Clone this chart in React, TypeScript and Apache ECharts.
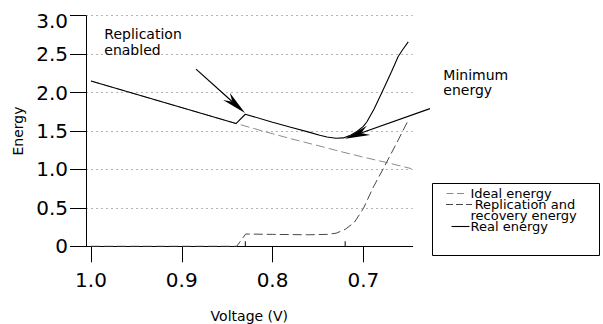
import React, { useEffect, useRef } from "react";
import * as echarts from "echarts";

// ---- data ----
const voltageTicks = [1.0, 0.9, 0.8, 0.7];
const seriesNames = ["Ideal energy", "Replication and\nrecovery energy", "Real energy"];

const idealVoltage = [1.0, 0.84, 0.8139, 0.78, 0.75, 0.7258, 0.7, 0.6726, 0.647];
const idealEnergy = [2.15, 1.597, 1.51, 1.4, 1.31, 1.235, 1.16, 1.085, 1.01];

const replVoltage = [1.0, 0.8395, 0.8296, 0.8, 0.76, 0.74, 0.73, 0.72, 0.71, 0.7, 0.689, 0.678, 0.6617, 0.6505];
const replEnergy = [0, 0, 0.16, 0.155, 0.15, 0.155, 0.17, 0.22, 0.31, 0.49, 0.77, 1.01, 1.38, 1.64];

const realVoltage = [1.0, 0.8403, 0.83, 0.8, 0.78, 0.76, 0.748, 0.74, 0.73, 0.722, 0.715, 0.7074, 0.7, 0.696, 0.688, 0.678, 0.669, 0.6616, 0.6565, 0.6505];
const realEnergy = [2.15, 1.597, 1.718, 1.615, 1.55, 1.485, 1.445, 1.422, 1.405, 1.41, 1.44, 1.49, 1.56, 1.62, 1.79, 2.04, 2.27, 2.47, 2.56, 2.66];

const annotationTexts = ["Replication\nenabled", "Minimum\nenergy"];
const replicationPoint = [0.8303, 1.733];
const minimumPoint = [0.7202, 1.4];
const markerVoltages = [0.83, 0.72];

const FONT = "DejaVu Sans";

function zip(xs: number[], ys: number[]) {
  return xs.map((x, i) => [x, ys[i]]);
}

function arrow(tip: number[], tail: number[]) {
  const dx = tip[0] - tail[0];
  const dy = tip[1] - tail[1];
  const len = Math.hypot(dx, dy);
  const ux = dx / len, uy = dy / len;
  const px = -uy, py = ux;
  const L = 25, W = 10;
  const bx = tip[0] - ux * L, by = tip[1] - uy * L;
  const nx = tip[0] - ux * L * 0.68, ny = tip[1] - uy * L * 0.68;
  return [
    { type: "line", silent: true, shape: { x1: tail[0], y1: tail[1], x2: nx, y2: ny }, style: { stroke: "#000", lineWidth: 1.2 } },
    {
      type: "polygon",
      silent: true,
      shape: { points: [[tip[0], tip[1]], [bx + px * W / 2, by + py * W / 2], [nx, ny], [bx - px * W / 2, by - py * W / 2]] },
      style: { fill: "#000" },
    },
  ];
}

export default function App() {
  const ref = useRef<HTMLDivElement>(null);
  useEffect(() => {
    const chart = echarts.init(ref.current!, null, { renderer: "svg" });
    const option: any = {
      animation: false,
      backgroundColor: "#fff",
      grid: { left: 86, right: 190.3, top: 15.7, bottom: 77.7, containLabel: false, outerBoundsMode: "none" },
      xAxis: {
        type: "value",
        inverse: true,
        min: 0.6456,
        max: 1.0055,
        name: "Voltage (V)",
        nameLocation: "middle",
        nameGap: 63,
        nameTextStyle: { fontFamily: FONT, fontSize: 14, color: "#000" },
        axisLine: { show: true, lineStyle: { color: "#000", width: 1 } },
        axisTick: { show: true, inside: false, length: 16, customValues: voltageTicks, lineStyle: { color: "#000", width: 1 } },
        axisLabel: {
          customValues: voltageTicks,
          margin: 24,
          fontFamily: FONT,
          fontSize: 20,
          color: "#000",
          formatter: (v: number) => v.toFixed(1),
        },
        splitLine: { show: false },
      },
      yAxis: {
        type: "value",
        min: 0,
        max: 3,
        interval: 0.5,
        name: "Energy",
        nameLocation: "middle",
        nameGap: 57,
        nameTextStyle: { fontFamily: FONT, fontSize: 14, color: "#000" },
        axisLine: { show: true, lineStyle: { color: "#000", width: 1 } },
        axisTick: { show: true, inside: false, length: 16, lineStyle: { color: "#000", width: 1 } },
        axisLabel: {
          margin: 18,
          fontFamily: FONT,
          fontSize: 20,
          color: "#000",
          formatter: (v: number) => (v === 0 ? "0" : v === 3 ? "{top|3.0}" : v.toFixed(1)),
          rich: { top: { fontFamily: FONT, fontSize: 20, color: "#000", padding: [11, 0, 0, 0] } },
        },
        splitLine: { show: true, lineStyle: { color: "#b4b4b4", width: 1, type: [2, 3] } },
      },
      series: [
        {
          name: seriesNames[0],
          type: "line",
          data: zip(idealVoltage, idealEnergy),
          showSymbol: false,
          silent: true,
          z: 2,
          lineStyle: { color: "#8c8c8c", width: 1, type: [9, 4] },
        },
        {
          name: seriesNames[1],
          type: "line",
          data: zip(replVoltage, replEnergy),
          showSymbol: false,
          silent: true,
          z: 3,
          lineStyle: { color: "#474747", width: 1, type: [9, 4] },
        },
        {
          name: seriesNames[2],
          type: "line",
          data: zip(realVoltage, realEnergy),
          showSymbol: false,
          silent: true,
          z: 4,
          lineStyle: { color: "#000", width: 1.1, type: "solid" },
        },
      ],
    };
    chart.setOption(option);

    const toPx = (v: number, e: number) => chart.convertToPixel({ gridIndex: 0 }, [v, e]) as number[];
    const repTip = toPx(replicationPoint[0], replicationPoint[1]);
    const minTip = toPx(minimumPoint[0], minimumPoint[1]);
    const markers = markerVoltages.map((v) => {
      const p = toPx(v, 0);
      return { type: "line", silent: true, shape: { x1: p[0], y1: p[1], x2: p[0], y2: p[1] - 5 }, style: { stroke: "#000", lineWidth: 1 } };
    });

    // legend text as one block of lines (row spacing ~11px as in the reference)
    const legendLines = [seriesNames[0], "\u00a0" + seriesNames[1].split("\n")[0], seriesNames[1].split("\n")[1], seriesNames[2]];
    const graphic: any[] = [
      ...arrow(repTip, [repTip[0] - 49, repTip[1] - 44]),
      ...arrow(minTip, [minTip[0] + 85, minTip[1] - 30]),
      ...markers,
      {
        type: "text",
        silent: true,
        style: { x: 104.3, y: 42.2, text: annotationTexts[0], font: `14px "${FONT}"`, fill: "#000", lineHeight: 15.7, verticalAlign: "middle", align: "left" },
      },
      {
        type: "text",
        silent: true,
        style: { x: 443.3, y: 82.3, text: annotationTexts[1], font: `14px "${FONT}"`, fill: "#000", lineHeight: 15.5, verticalAlign: "middle", align: "left" },
      },
      // legend box
      { type: "rect", silent: true, shape: { x: 432.5, y: 183.5, width: 167, height: 72 }, style: { fill: "#fff", stroke: "#000", lineWidth: 1 } },
      { type: "line", silent: true, shape: { x1: 446.5, y1: 193.5, x2: 466.5, y2: 193.5 }, style: { stroke: "#8c8c8c", lineWidth: 1, lineDash: [7, 3.5] } },
      { type: "line", silent: true, shape: { x1: 446, y1: 204.5, x2: 472, y2: 204.5 }, style: { stroke: "#474747", lineWidth: 1, lineDash: [7, 3] } },
      { type: "line", silent: true, shape: { x1: 451.5, y1: 226.5, x2: 469.5, y2: 226.5 }, style: { stroke: "#000", lineWidth: 1.1 } },
      {
        type: "text",
        silent: true,
        style: { x: 470.5, y: 210, text: legendLines.join("\n"), font: `13px "${FONT}"`, fill: "#000", lineHeight: 11, verticalAlign: "middle", align: "left" },
      },
    ];
    chart.setOption({ graphic });

    return () => chart.dispose();
  }, []);
  return <div ref={ref} style={{ position: "fixed", left: 0, top: 0, width: 603, height: 324 }} />;
}
